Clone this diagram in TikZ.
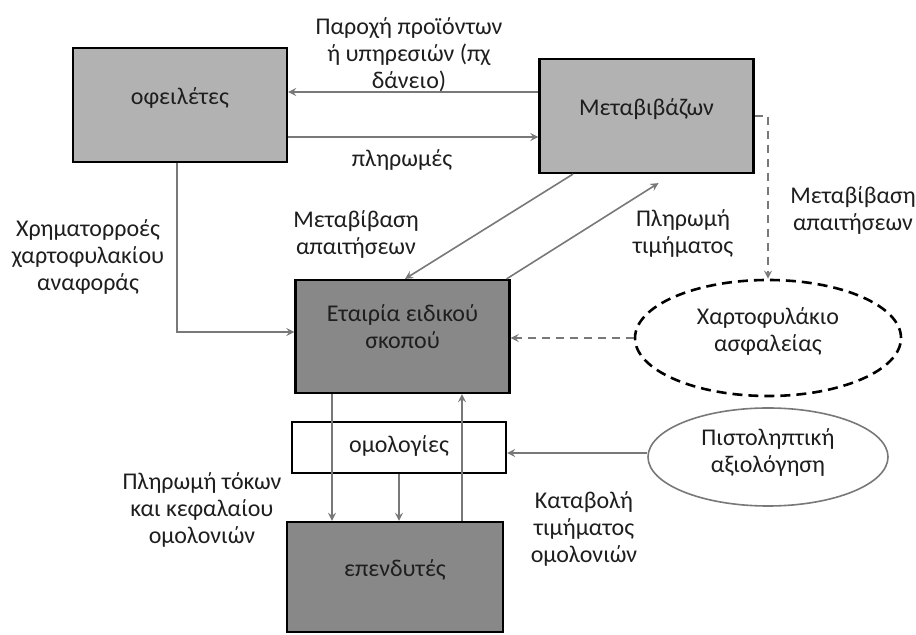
\documentclass[tikz,border=0pt]{standalone}
\usepackage{fontspec}
\setmainfont{Carlito}
\usepackage{xcolor}
\usepackage{tikz}
\usetikzlibrary{calc,arrows,positioning,shapes.geometric}
\definecolor{cLight}{RGB}{178,178,178}
\definecolor{cDark}{RGB}{136,136,136}
\definecolor{cFlow}{RGB}{120,120,120}
\definecolor{cText}{RGB}{30,30,30}

\begin{document}
\begin{tikzpicture}[x=0.5pt,y=-0.5pt,
    font=\fontsize{12}{13.5}\selectfont, text=cText,
    party/.style={rectangle,draw=black,line width=1.1pt,text depth=9pt,
      minimum width=107pt,minimum height=57pt,inner sep=0pt},
    light/.style={party,fill=cLight},
    dark/.style={party,fill=cDark},
    pool/.style={ellipse,draw=black,line width=1.3pt,dash pattern=on 5pt off 3pt,
      text depth=8pt,inner sep=0pt,align=center},
    flow/.style={draw=cFlow,line width=0.8pt,-stealth},
    dflow/.style={flow,dash pattern=on 4pt off 3pt},
    lbl/.style={align=center,inner sep=0pt}]
  \useasboundingbox (0,0) rectangle (916,635);
  % the parties
  \node[light] (deb) at (180,105) {οφειλέτες};
  \node[light] (trf) at (646.5,116) {Μεταβιβάζων};
  \node[dark,align=center,text depth=10pt,minimum height=56.5pt] (spv) at (402.5,336.5) {Εταιρία ειδικού\\σκοπού};
  \node[party,fill=white,text depth=3pt,minimum height=25.5pt] (bonds) at (399,447.5) {ομολογίες};
  \node[dark,minimum width=108pt,minimum height=55pt] (inv) at (395,577) {επενδυτές};
  \node[pool,minimum width=133pt,minimum height=58pt] (coll) at (768,338) {Χαρτοφυλάκιο\\ασφαλείας};
  \node[pool,draw=cFlow,line width=0.8pt,solid,text depth=6pt,minimum width=120pt,minimum height=49pt] (rating) at (768,457) {Πιστοληπτική\\αξιολόγηση};
  % flows
  \draw[flow] ([yshift=12pt]trf.west) -- ([yshift=12pt]trf.west -| deb.east);
  \draw[flow] ([yshift=-16pt]deb.east) -- ([yshift=-16pt]deb.east -| trf.west);
  \draw[flow] ([xshift=-36.75pt]trf.south) -- ([xshift=1.25pt]spv.north);
  \draw[flow] ([xshift=-2pt]spv.north east) -- ([xshift=6pt,yshift=-4.5pt]trf.south);
  \draw[flow] ([xshift=-1.5pt]deb.south) |- ([yshift=2.25pt]spv.west);
  \draw[dflow] (trf.east) -| (coll.north);
  \draw[dflow] (coll.west) -- (coll.west -| spv.east);
  \draw[flow] ([yshift=2pt]rating.west) -- ([yshift=2pt]rating.west -| bonds.east);
  \draw[flow] ([xshift=-35.25pt]spv.south) -- ([xshift=-35.25pt]spv.south |- inv.north);
  \draw[flow] (bonds.south) -- (bonds.south |- inv.north);
  \draw[flow] ([xshift=33.5pt]inv.north) -- ([xshift=33.5pt]inv.north |- spv.south);
  % labels
  \node[lbl] (lSupply) at (409,55) {Παροχή προϊόντων\\ή υπηρεσιών (πχ\\δάνειο)};
  \node[lbl] (lPay) at (402,160) {πληρωμές};
  \node[lbl] (lTransfer) at (356,234) {Μεταβίβαση\\απαιτήσεων};
  \node[lbl] (lPrice) at (683,233) {Πληρωμή\\τιμήματος};
  \node[lbl] (lTransferB) at (853,210) {Μεταβίβαση\\απαιτήσεων};
  \node[lbl] (lCash) at (88,257) {Χρηματορροές\\χαρτοφυλακίου\\αναφοράς};
  \node[lbl] (lCoupon) at (202,510) {Πληρωμή τόκων\\και κεφαλαίου\\ομολονιών};
  \node[lbl] (lSubscr) at (584,529) {Καταβολή\\τιμήματος\\ομολονιών};
\end{tikzpicture}
\end{document}
